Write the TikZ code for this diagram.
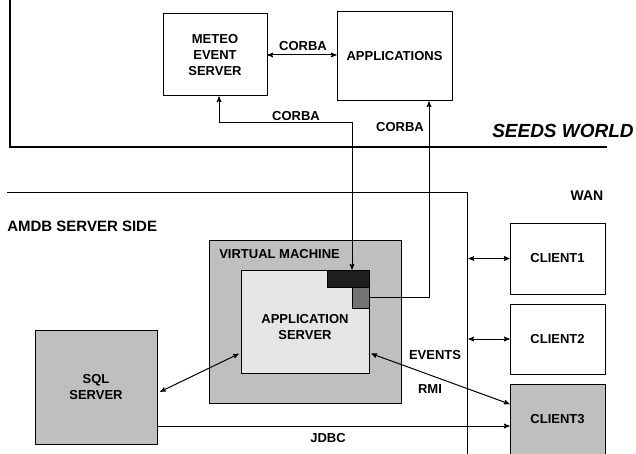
\documentclass[tikz,border=0pt]{standalone}
\usepackage{fontspec}
\setmainfont{Liberation Sans}
\usepackage{tikz}
\usetikzlibrary{arrows,positioning}

\begin{document}
\begin{tikzpicture}[x=1pt,y=-1pt,>=stealth',semithick,
                    font=\bfseries\fontsize{13}{16}\selectfont]
  \tikzstyle{box}=[rectangle,draw,line width=1pt,align=center,inner sep=0pt]
  \tikzstyle{link}=[line width=1pt]
  \tikzstyle{tag}=[inner sep=0pt]
  \useasboundingbox (0,0) rectangle (636,454);

  % seeds world
  \draw[line width=2pt] (10,0) -- (10,147) -- (607,147);
  \node[tag,anchor=base east,font=\bfseries\itshape\fontsize{19}{22}\selectfont]
       (SW) at (634,138) {SEEDS WORLD};

  \node[box,minimum width=104,minimum height=82] (MES) at (215,55)
       {METEO\\EVENT\\SERVER};
  \node[box,minimum width=115,minimum height=89] (APP) at (394.5,56.5)
       {APPLICATIONS};

  % amdb server side
  \draw[line width=0.8pt] (7,192) -- (467,192) -- (467,454);
  \node[tag,anchor=west,font=\bfseries\fontsize{15}{18}\selectfont] (SIDE) at (7,226) {AMDB SERVER SIDE};
  \node[tag,font=\bfseries\fontsize{14}{17}\selectfont] (WAN) at (587,196) {WAN};

  \node[box,fill=black!25,minimum width=192,minimum height=163] (VM) at (305,321.5) {};
  \node[tag,anchor=west] (VML) at (219,254) {VIRTUAL MACHINE};
  \node[box,fill=black!10,minimum width=128,minimum height=103] (AS) at (305,321.5) {};
  \node[tag,align=center] (ASL) at ([yshift=-6pt]AS.center) {APPLICATION\\SERVER};
  \node[box,fill=black!88,minimum width=42,minimum height=17] (ORB) at (348,278.5) {};
  \node[box,fill=black!55,minimum width=17,minimum height=21] (PORT) at (360.5,297.5) {};

  \node[box,fill=black!25,minimum width=122,minimum height=114] (SQL) at (96,387)
       {SQL\\SERVER};

  \node[box,minimum width=95,minimum height=71] (C1) at (557.5,258.5) {CLIENT1};
  \node[box,minimum width=95,minimum height=70] (C2) [below=9pt of C1] {CLIENT2};
  \node[box,fill=black!25,minimum width=95,minimum height=70] (C3) [below=9pt of C2] {CLIENT3};

  % connectors
  \draw[link,<->] (MES.east) -- (MES.east -| APP.west);
  \draw[link,<->] ([xshift=4pt]MES.south) -- ++(0,26) -| ([xshift=4pt]ORB.north);
  \draw[link,->] (PORT.east) -| ([xshift=34.5pt]APP.south);
  \draw[link,<->,shorten <=3pt,shorten >=2pt] ([yshift=-6pt]SQL.east) -- ([yshift=-31.5pt]AS.west);
  \draw[link,<->,shorten <=2pt] ([yshift=-31.5pt]AS.east) -- ([yshift=15pt]C3.west);
  \draw[link,->] ([yshift=-39pt]SQL.east) -- ([yshift=-39pt]SQL.east -| C3.west);
  \draw[link,<->] ([xshift=-41pt]C1.west) -- (C1.west);
  \draw[link,<->] ([xshift=-41pt]C2.west) -- (C2.west);

  \node[tag] (L1) at (303,46) {CORBA};
  \node[tag] (L2) at (296,116) {CORBA};
  \node[tag] (L3) at (400,127) {CORBA};
  \node[tag] (L4) at (435,355) {EVENTS};
  \node[tag] (L5) at (430,389) {RMI};
  \node[tag] (L6) at (328,438) {JDBC};

\end{tikzpicture}
\end{document}
